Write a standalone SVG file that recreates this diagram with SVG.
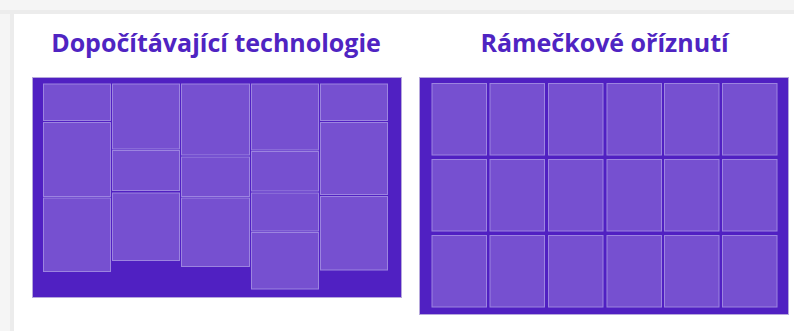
<svg xmlns="http://www.w3.org/2000/svg" width="794" height="331" viewBox="0 0 794 331">
<style>
.title{font-family:"Open Sans","Noto Sans",sans-serif;font-weight:700;font-size:25px;fill:#4f24c2;text-anchor:middle}
.panel{fill:#5020c2;stroke:#b6a8dc;stroke-width:1}
.tile{fill:#7650d0;stroke:#9c84e0;stroke-width:1}
</style>
<rect x="0" y="0" width="794" height="331" fill="#f5f5f5"/>
<rect x="0" y="10" width="794" height="4" fill="#ececec"/>
<rect x="10" y="10" width="4" height="321" fill="#ececec"/>
<rect x="14" y="14" width="780" height="317" fill="#ffffff"/>
<g id="title-left"><text class="title" x="216" y="52">Dopočítávající technologie</text></g>
<g id="title-right"><text class="title" x="604.5" y="52">Rámečkové oříznutí</text></g>
<g id="panel-left">
<rect class="panel" x="32.5" y="77.5" width="369" height="220"/>
<rect class="tile" x="43.5" y="84" width="67" height="36.5"/>
<rect class="tile" x="43.5" y="122.5" width="67" height="74"/>
<rect class="tile" x="43.5" y="198" width="67" height="73.5"/>
<rect class="tile" x="112.5" y="84" width="67" height="65"/>
<rect class="tile" x="112.5" y="150.5" width="67" height="40"/>
<rect class="tile" x="112.5" y="193" width="67" height="67.5"/>
<rect class="tile" x="181.5" y="84" width="68" height="71"/>
<rect class="tile" x="181.5" y="157" width="68" height="39.5"/>
<rect class="tile" x="181.5" y="198" width="68" height="68.5"/>
<rect class="tile" x="251.5" y="84" width="67" height="66"/>
<rect class="tile" x="251.5" y="151.5" width="67" height="39.5"/>
<rect class="tile" x="251.5" y="193" width="67" height="38"/>
<rect class="tile" x="251.5" y="232.5" width="67" height="56.5"/>
<rect class="tile" x="320.5" y="84" width="67" height="36.5"/>
<rect class="tile" x="320.5" y="122.5" width="67" height="72"/>
<rect class="tile" x="320.5" y="196.5" width="67" height="73.5"/>
</g>
<g id="panel-right">
<rect class="panel" x="419.5" y="77.5" width="369" height="237"/>
<g>
<rect class="tile" x="432" y="83.5" width="54.5" height="71.5"/>
<rect class="tile" x="490" y="83.5" width="54.5" height="71.5"/>
<rect class="tile" x="548.5" y="83.5" width="54.5" height="71.5"/>
<rect class="tile" x="607" y="83.5" width="54.5" height="71.5"/>
<rect class="tile" x="664.5" y="83.5" width="54.5" height="71.5"/>
<rect class="tile" x="722.5" y="83.5" width="54.5" height="71.5"/>
<rect class="tile" x="432" y="159.5" width="54.5" height="71.5"/>
<rect class="tile" x="490" y="159.5" width="54.5" height="71.5"/>
<rect class="tile" x="548.5" y="159.5" width="54.5" height="71.5"/>
<rect class="tile" x="607" y="159.5" width="54.5" height="71.5"/>
<rect class="tile" x="664.5" y="159.5" width="54.5" height="71.5"/>
<rect class="tile" x="722.5" y="159.5" width="54.5" height="71.5"/>
<rect class="tile" x="432" y="235.5" width="54.5" height="71.5"/>
<rect class="tile" x="490" y="235.5" width="54.5" height="71.5"/>
<rect class="tile" x="548.5" y="235.5" width="54.5" height="71.5"/>
<rect class="tile" x="607" y="235.5" width="54.5" height="71.5"/>
<rect class="tile" x="664.5" y="235.5" width="54.5" height="71.5"/>
<rect class="tile" x="722.5" y="235.5" width="54.5" height="71.5"/>
</g>
</g>
<g id="connectors"></g>
</svg>
